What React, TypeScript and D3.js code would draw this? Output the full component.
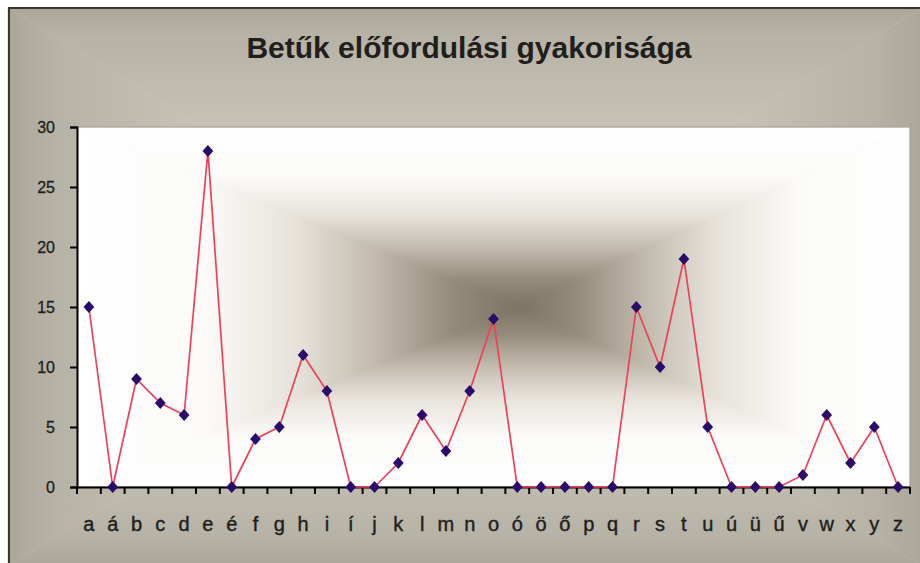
import { useEffect, useRef } from "react";
import * as d3 from "d3";

const letters = ["a", "á", "b", "c", "d", "e", "é", "f", "g", "h", "i", "í", "j", "k", "l", "m", "n", "o", "ó", "ö", "ő", "p", "q", "r", "s", "t", "u", "ú", "ü", "ű", "v", "w", "x", "y", "z"];
const counts = [15, 0, 9, 7, 6, 28, 0, 4, 5, 11, 8, 0, 0, 2, 6, 3, 8, 14, 0, 0, 0, 0, 0, 15, 10, 19, 5, 0, 0, 0, 1, 6, 2, 5, 0];
const yTicks = [0, 5, 10, 15, 20, 25, 30];
const title = "Betűk előfordulási gyakorisága";

const W = 920;
const H = 563;

type Stop = [number, string];

// excel-like "from center" rectangle gradient made of four triangles
function centerGradient(
  root: d3.Selection<SVGSVGElement, unknown, null, undefined>,
  id: string,
  box: { x0: number; y0: number; x1: number; y1: number; cx: number; cy: number },
  stops: Stop[],
) {
  const { x0, y0, x1, y1, cx, cy } = box;
  const defs = root.append("defs");
  const parts = [
    { k: "t", pts: [[x0, y0], [x1, y0], [cx, cy]], from: [cx, y0] },
    { k: "b", pts: [[x0, y1], [x1, y1], [cx, cy]], from: [cx, y1] },
    { k: "l", pts: [[x0, y0], [x0, y1], [cx, cy]], from: [x0, cy] },
    { k: "r", pts: [[x1, y0], [x1, y1], [cx, cy]], from: [x1, cy] },
  ];
  parts.forEach((p) => {
    const g = defs
      .append("linearGradient")
      .attr("id", id + p.k)
      .attr("gradientUnits", "userSpaceOnUse")
      .attr("x1", p.from[0])
      .attr("y1", p.from[1])
      .attr("x2", cx)
      .attr("y2", cy);
    stops.forEach((s) => g.append("stop").attr("offset", s[0]).attr("stop-color", s[1]));
    root
      .append("polygon")
      .attr("points", p.pts.map((q) => q.join(",")).join(" "))
      .attr("fill", `url(#${id + p.k})`)
      .attr("stroke", `url(#${id + p.k})`)
      .attr("stroke-width", 0.6);
  });
}

function LetterChart() {
  const ref = useRef<SVGSVGElement>(null);

  useEffect(() => {
    if (!ref.current) return;
    const svg = d3.select(ref.current);
    svg.selectAll("*").remove();

    const plot = { left: 77, right: 910, top: 127, bottom: 487 };
    const font = "Arial, 'Liberation Sans', sans-serif";
    const ink = "#211f1c";

    // outer frame
    centerGradient(
      svg,
      "outer",
      { x0: 8, y0: 8, x1: 922, y1: 566, cx: 465, cy: 287 },
      [[0, "#aca69a"], [0.1, "#b7b2a6"], [0.4, "#c5c1b5"], [1, "#cdc9be"]],
    );
    svg
      .append("path")
      .attr("d", `M9,${H} V8 H${W}`)
      .attr("fill", "none")
      .attr("stroke", "#3b352f")
      .attr("stroke-width", 2);

    svg
      .append("text")
      .attr("x", 469)
      .attr("y", 58)
      .attr("text-anchor", "middle")
      .attr("font-family", font)
      .attr("font-weight", "bold")
      .attr("font-size", 30)
      .attr("fill", ink)
      .text(title);

    // plot area
    centerGradient(
      svg,
      "inner",
      { x0: plot.left, y0: plot.top, x1: plot.right, y1: plot.bottom, cx: 518, cy: 307 },
      [[0, "#ffffff"], [0.28, "#fcfbf9"], [0.5, "#e6e2da"], [0.68, "#c0b9ac"], [0.85, "#948b7b"], [1, "#7c7363"]],
    );
    svg
      .append("rect")
      .attr("x", plot.left)
      .attr("y", plot.top)
      .attr("width", plot.right - plot.left)
      .attr("height", plot.bottom - plot.top)
      .attr("fill", "none")
      .attr("stroke", "#8f897d")
      .attr("stroke-width", 1);

    const x = d3.scaleBand().domain(letters).range([plot.left, plot.right]);
    const y = d3.scaleLinear().domain([0, 30]).range([plot.bottom, plot.top]);
    const cxOf = (i: number) => (x(letters[i]) ?? 0) + x.bandwidth() / 2;

    // y axis
    const yAxis = svg
      .append("g")
      .attr("transform", `translate(${plot.left},0)`)
      .call(d3.axisLeft(y).tickValues(yTicks).tickSize(7).tickPadding(15));
    yAxis.select(".domain").attr("stroke", "#000").attr("stroke-width", 2);
    yAxis.selectAll(".tick line").attr("stroke", "#000").attr("stroke-width", 2);
    yAxis
      .selectAll(".tick text")
      .attr("font-family", font)
      .attr("font-size", 16)
      .attr("fill", ink)
      .attr("stroke", ink)
      .attr("stroke-width", 0.3);

    // x axis: ticks on band edges
    const xAxis = svg
      .append("g")
      .attr("transform", `translate(0,${plot.bottom})`)
      .call(d3.axisBottom(x).tickSize(0).tickPadding(30));
    xAxis.select(".domain").attr("stroke", "#000").attr("stroke-width", 2);
    xAxis
      .selectAll(".tick text")
      .attr("font-family", font)
      .attr("font-size", 20)
      .attr("fill", ink)
      .attr("stroke", ink)
      .attr("stroke-width", 0.4);
    const edges = letters.map((l) => x(l) ?? 0).concat([plot.right]);
    xAxis
      .selectAll("line.edge")
      .data(edges)
      .enter()
      .append("line")
      .attr("class", "edge")
      .attr("x1", (d: number) => d)
      .attr("x2", (d: number) => d)
      .attr("y1", 0)
      .attr("y2", 7)
      .attr("stroke", "#000")
      .attr("stroke-width", 2);

    // series
    const line = d3
      .line<number>()
      .x((_d: number, i: number) => cxOf(i))
      .y((d: number) => y(d));
    svg
      .append("path")
      .attr("d", line(counts))
      .attr("fill", "none")
      .attr("stroke", "#ee4058")
      .attr("stroke-width", 1.7);

    const diamond = d3.symbol().type(d3.symbolDiamond2).size(74);
    svg
      .selectAll("path.mark")
      .data(counts)
      .enter()
      .append("path")
      .attr("class", "mark")
      .attr("d", diamond())
      .attr("transform", (d: number, i: number) => `translate(${cxOf(i)},${y(d)}) scale(1,1.12)`)
      .attr("fill", "#2a0b6c");
  }, []);

  return <svg ref={ref} width={W} height={H} style={{ position: "absolute", left: 0, top: 0, display: "block" }} />;
}

export default function App() {
  return <LetterChart />;
}
